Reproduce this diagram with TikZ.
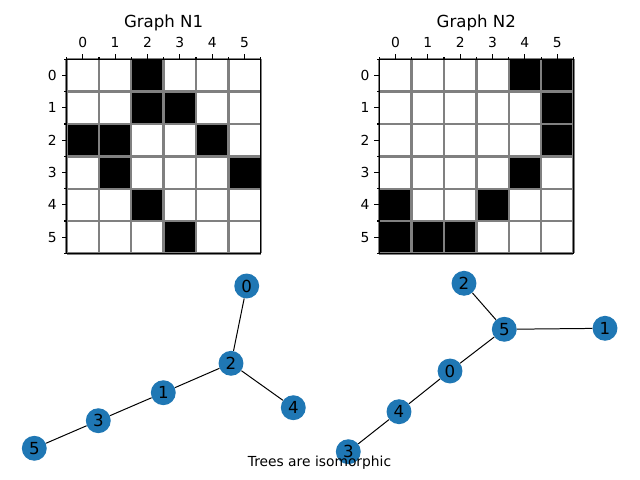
\documentclass[tikz,border=0pt]{standalone}
\usepackage{fontspec}
\setmainfont{DejaVu Sans}
\usetikzlibrary{positioning}
\definecolor{vertexblue}{HTML}{1F77B4}
\definecolor{gridgray}{HTML}{808080}
\tikzset{
  cellline/.style={
    draw=gridgray,
    line width=1.7pt
  },
  spine/.style={
    draw=black,
    line width=0.8pt
  },
  ticklabel/.style={
    font=\fontsize{10}{12}\selectfont,
    inner sep=0pt
  },
  paneltitle/.style={
    font=\fontsize{12}{14}\selectfont,
    inner sep=0pt,
    anchor=base
  },
  vertex/.style={
    circle,
    fill=vertexblue,
    minimum size=18pt,
    inner sep=0pt,
    font=\fontsize{12}{14}\selectfont
  },
  treeedge/.style={
    draw=black,
    line width=0.72pt
  },
  note/.style={
    font=\fontsize{10}{12}\selectfont,
    inner sep=0pt,
    anchor=base
  }
}

\begin{document}
\begin{tikzpicture}[x=0.254mm, y=-0.254mm]
\useasboundingbox (0,0) rectangle (640,480);

% adjacency matrix of N1
\begin{scope}[shift={(66.6,59.3)}]
  \foreach \c/\r in {2/0,2/1,3/1,0/2,1/2,4/2,1/3,5/3,2/4,3/5}
    \fill[black] (\c*32.35,\r*32.35) rectangle ++(32.35,32.35);
  \foreach \i in {0,...,6} {
    \draw[cellline] (\i*32.35,0) -- (\i*32.35,194.1);
    \draw[cellline] (0,\i*32.35) -- (194.1,\i*32.35);
    \draw[spine] (\i*32.35,0) -- ++(0,-2.78);
    \draw[spine] (0,\i*32.35) -- ++(-2.78,0);
  }
  \foreach \i in {0,...,5} {
    \draw[spine] (\i*32.35+16.17,0) -- ++(0,-4.86);
    \draw[spine] (0,\i*32.35+16.17) -- ++(-4.86,0);
    \node[ticklabel, anchor=base] (aCol\i) at (\i*32.35+16.17,-11.6) {\i};
    \node[ticklabel, anchor=east] (aRow\i) at (-9.7,\i*32.35+16.17) {\i};
  }
  \draw[spine] (0,0) rectangle (194.1,194.1);
  \node[paneltitle] (titleA) at (97,-31.6) {Graph N1};
\end{scope}

% adjacency matrix of N2
\begin{scope}[shift={(379.3,59.3)}]
  \foreach \c/\r in {4/0,5/0,5/1,5/2,4/3,0/4,3/4,0/5,1/5,2/5}
    \fill[black] (\c*32.35,\r*32.35) rectangle ++(32.35,32.35);
  \foreach \i in {0,...,6} {
    \draw[cellline] (\i*32.35,0) -- (\i*32.35,194.1);
    \draw[cellline] (0,\i*32.35) -- (194.1,\i*32.35);
    \draw[spine] (\i*32.35,0) -- ++(0,-2.78);
    \draw[spine] (0,\i*32.35) -- ++(-2.78,0);
  }
  \foreach \i in {0,...,5} {
    \draw[spine] (\i*32.35+16.17,0) -- ++(0,-4.86);
    \draw[spine] (0,\i*32.35+16.17) -- ++(-4.86,0);
    \node[ticklabel, anchor=base] (bCol\i) at (\i*32.35+16.17,-11.6) {\i};
    \node[ticklabel, anchor=east] (bRow\i) at (-9.7,\i*32.35+16.17) {\i};
  }
  \draw[spine] (0,0) rectangle (194.1,194.1);
  \node[paneltitle] (titleB) at (97,-31.6) {Graph N2};
\end{scope}

% tree of N1
\node[vertex] (a0) at (246.7,286) {0};
\node[vertex] (a2) at (231,363.3) {2};
\node[vertex] (a1) at (163.3,392.7) {1};
\node[vertex] (a3) at (98.3,420.7) {3};
\node[vertex] (a5) at (34.3,448.3) {5};
\node[vertex] (a4) at (293.3,407.7) {4};
\draw[treeedge] (a0) -- (a2);
\draw[treeedge] (a2) -- (a1);
\draw[treeedge] (a2) -- (a4);
\draw[treeedge] (a1) -- (a3);
\draw[treeedge] (a3) -- (a5);

% tree of N2
\node[vertex] (b2) at (464,283.3) {2};
\node[vertex] (b5) at (504.3,329.3) {5};
\node[vertex] (b1) at (605,328.3) {1};
\node[vertex] (b0) at (450,371) {0};
\node[vertex] (b4) at (399,411.7) {4};
\node[vertex] (b3) at (348.3,451.7) {3};
\draw[treeedge] (b2) -- (b5);
\draw[treeedge] (b5) -- (b1);
\draw[treeedge] (b5) -- (b0);
\draw[treeedge] (b0) -- (b4);
\draw[treeedge] (b4) -- (b3);

\node[note] (verdict) at (319.5,466.7) {Trees are isomorphic};

\end{tikzpicture}
\end{document}
